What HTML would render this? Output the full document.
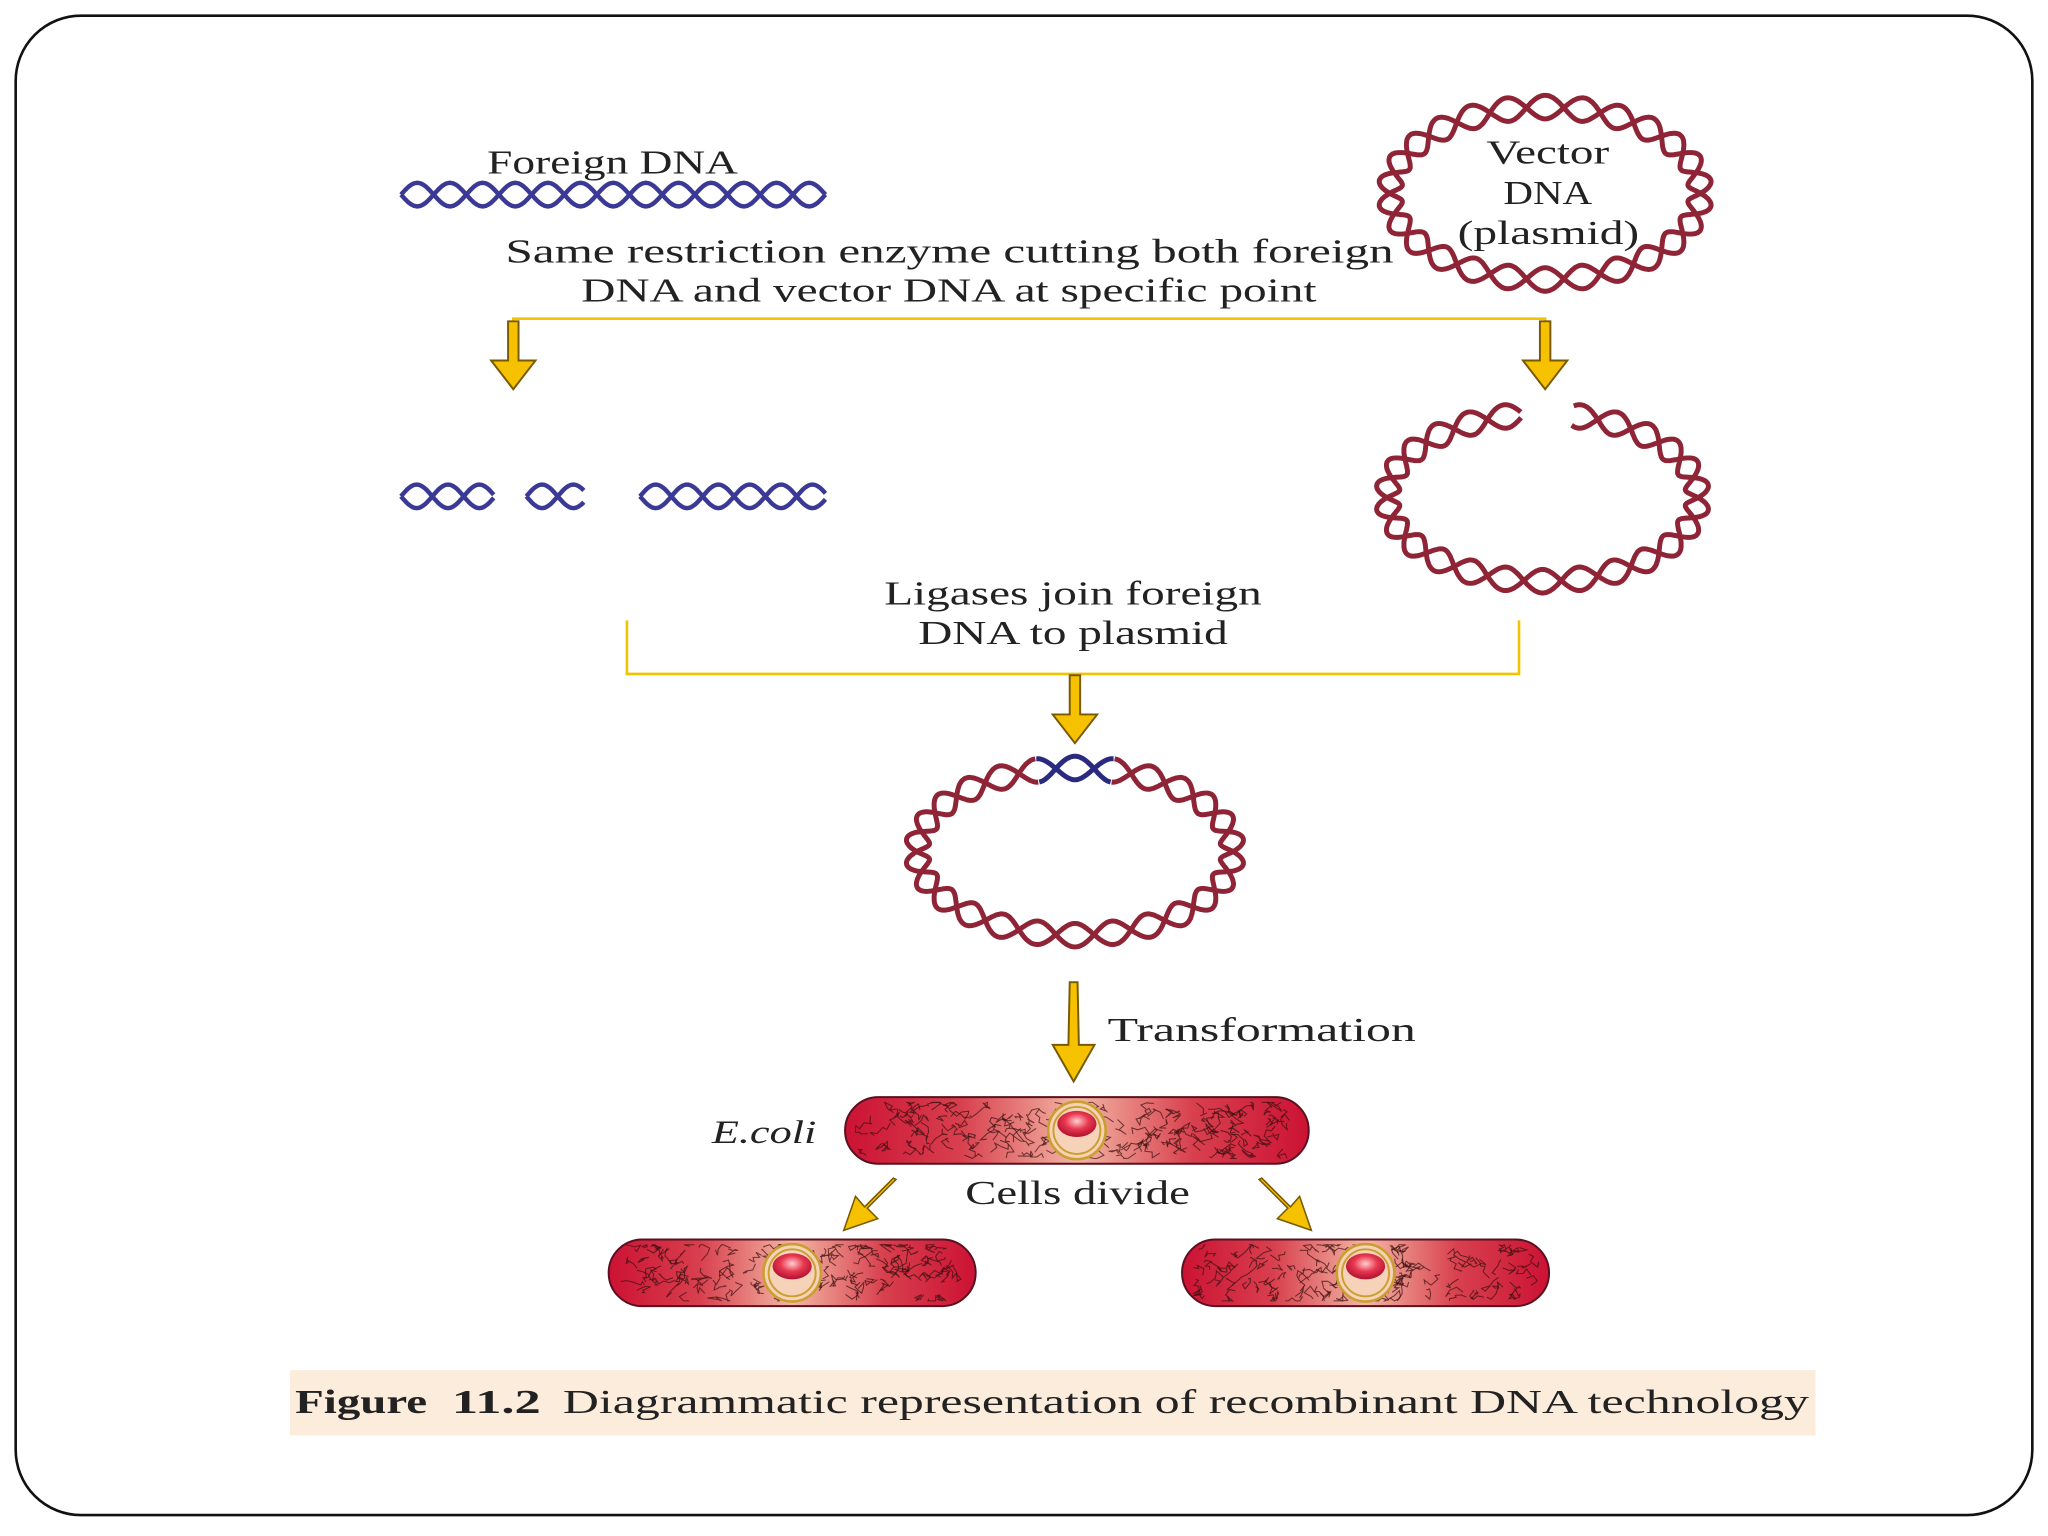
<!DOCTYPE html>
<html><head><meta charset="utf-8"><style>
html,body{margin:0;padding:0;background:#fff;}
svg{display:block;}
text{font-family:"Liberation Serif",serif;fill:#222;}
</style></head><body>
<svg id="s" width="2048" height="1536" viewBox="0 0 1568 1176" xmlns="http://www.w3.org/2000/svg">
<defs>
<linearGradient id="cell" x1="0" x2="1" y1="0" y2="0">
<stop offset="0" stop-color="#cc1234"/><stop offset="0.25" stop-color="#d8404e"/>
<stop offset="0.5" stop-color="#f3b6a4"/><stop offset="0.75" stop-color="#d8404e"/><stop offset="1" stop-color="#cc1234"/>
</linearGradient>
<radialGradient id="nuc" cx="0.5" cy="0.4" r="0.6">
<stop offset="0" stop-color="#ffd0d0"/><stop offset="0.5" stop-color="#e83850"/><stop offset="1" stop-color="#b01030"/>
</radialGradient>
<g id="arr"><path d="M-4,0 L4,0 L4,30 L17,30 L0,52 L-17,30 L-4,30 Z" fill="#f6c200" stroke="#7a5a00" stroke-width="1.5"/></g>
</defs>
<rect x="12" y="12" width="1544" height="1148" rx="50" fill="#fff" stroke="#111" stroke-width="2"/>
<rect x="222" y="1049" width="1168" height="50" fill="#fbecdc"/>
<text x="373" y="133" font-size="26" textLength="192" lengthAdjust="spacingAndGlyphs">Foreign DNA</text>
<text x="387" y="201" font-size="26" textLength="680" lengthAdjust="spacingAndGlyphs">Same restriction enzyme cutting both foreign</text>
<text x="445" y="231" font-size="26" textLength="563" lengthAdjust="spacingAndGlyphs">DNA and vector DNA at specific point</text>
<text x="1138" y="125" font-size="26" textLength="94" lengthAdjust="spacingAndGlyphs">Vector</text>
<text x="1151" y="156" font-size="26" textLength="68" lengthAdjust="spacingAndGlyphs">DNA</text>
<text x="1116" y="187" font-size="26" textLength="139" lengthAdjust="spacingAndGlyphs">(plasmid)</text>
<polyline points="393,270 393,244 1183,244 1183,270" fill="none" stroke="#f0c400" stroke-width="2"/>
<use href="#arr" x="393" y="246"/>
<use href="#arr" x="1183" y="246"/>
<text x="677" y="463" font-size="26" textLength="289" lengthAdjust="spacingAndGlyphs">Ligases join foreign</text>
<text x="703" y="493" font-size="26" textLength="237" lengthAdjust="spacingAndGlyphs">DNA to plasmid</text>
<polyline points="480,475 480,516 1163,516 1163,475" fill="none" stroke="#f0c400" stroke-width="2"/>
<use href="#arr" x="823" y="517"/>
<path d="M819,752 L825,752 L826,800 L838,800 L822,828 L806,800 L818,800 Z" fill="#f6c200" stroke="#7a5a00" stroke-width="1.5"/>
<text x="848" y="797" font-size="26" textLength="236" lengthAdjust="spacingAndGlyphs">Transformation</text>
<text x="545" y="875" font-size="25" font-style="italic" textLength="80" lengthAdjust="spacingAndGlyphs">E.coli</text>
<text x="739" y="922" font-size="26" textLength="172" lengthAdjust="spacingAndGlyphs">Cells divide</text>
<path d="M686,903 L664,925 L672,933 L646,942 L655,916 L662,924 L684,902 Z" fill="#f6c200" stroke="#7a5a00" stroke-width="1.2"/>
<path d="M964,903 L986,925 L978,933 L1004,942 L995,916 L988,924 L966,902 Z" fill="#f6c200" stroke="#7a5a00" stroke-width="1.2"/>
<g id="dyn"></g>
<text x="226" y="1082" font-size="26" font-weight="bold" textLength="101" lengthAdjust="spacingAndGlyphs">Figure</text>
<text x="346" y="1082" font-size="26" font-weight="bold" textLength="68" lengthAdjust="spacingAndGlyphs">11.2</text>
<text x="431" y="1082" font-size="26" textLength="954" lengthAdjust="spacingAndGlyphs">Diagrammatic representation of recombinant DNA technology</text>
</svg>
<script>
var NS="http://www.w3.org/2000/svg",g=document.getElementById("dyn");
function el(t,a){var e=document.createElementNS(NS,t);for(var k in a)e.setAttribute(k,a[k]);g.appendChild(e);return e;}
function lin(x1,x2,y,per,amp,col){for(var s=0;s<2;s++){var d="";for(var x=x1;x<=x2;x+=1){var yy=y+(s?-1:1)*amp*Math.sin((x-x1)/per*2*Math.PI);d+=(d?"L":"M")+x.toFixed(1)+","+yy.toFixed(1);}el("path",{d:d,fill:"none",stroke:col,"stroke-width":3.4});}}
function ell(cx,cy,rx,ry,n,amp,col,gapA,gapB,blue){for(var s=0;s<2;s++){var d="",db="";var N=900;for(var i=0;i<=N;i++){var t=i/N*2*Math.PI;var deg=t*180/Math.PI;
var x=cx+rx*Math.cos(t),y=cy+ry*Math.sin(t);var nx=ry*Math.cos(t),ny=rx*Math.sin(t),L=Math.hypot(nx,ny);nx/=L;ny/=L;var o=(s?-1:1)*amp*Math.sin(n*t);var px=(x+nx*o).toFixed(1),py=(y+ny*o).toFixed(1);
var inGap=gapA!=null&&deg>gapA&&deg<gapB;var inBlue=blue&&deg>blue[0]&&deg<blue[1];
if(inGap){d+=" ";continue;}
if(inBlue){db+=(db&&db.slice(-1)!=" "?"L":"M")+px+","+py;d+=" ";continue;}else db+=" ";
d+=(d&&d.slice(-1)!=" "?"L":"M")+px+","+py;}
el("path",{d:d.replace(/ +/g," "),fill:"none",stroke:col,"stroke-width":3.8});
if(blue)el("path",{d:db.replace(/ +/g," "),fill:"none",stroke:"#2a2a80","stroke-width":3.8});}}
var blue="#3a3a96",red="#8e2435";
lin(307,632,149,50,9,blue);
lin(307,378,380,48,9,blue);lin(403,447,380,48,9,blue);lin(490,632,380,48,9,blue);
ell(1183,148,119,66,13,9,red);
ell(1181,381,119,64,13,9,red,262,281);
ell(823,652,121,64,13,9,red,null,null,[256,284]);
var seed=7;function rnd(){seed=(seed*16807)%2147483647;return seed/2147483647;}
function cell(x1,x2,y1,y2){var h=y2-y1,r=h/2,w=x2-x1;
el("rect",{x:x1,y:y1,width:w,height:h,rx:r,fill:"url(#cell)",stroke:"#5a1020","stroke-width":1.5});
var n=Math.round(w/2.2);
for(var k=0;k<n;k++){var x=x1+r*0.5+rnd()*(w-r),y=y1+5+rnd()*(h-10),d="M"+x.toFixed(1)+","+y.toFixed(1);
for(var j=0;j<5;j++){x+=(rnd()-0.5)*12;y+=(rnd()-0.5)*10;y=Math.max(y1+4,Math.min(y2-4,y));x=Math.max(x1+8,Math.min(x2-8,x));d+="L"+x.toFixed(1)+","+y.toFixed(1);}
el("path",{d:d,fill:"none",stroke:"#3a1010","stroke-width":0.8,opacity:0.7});}
var cx=(x1+x2)/2,cy=(y1+y2)/2;
el("circle",{cx:cx,cy:cy,r:22,fill:"#f6d2b8",stroke:"#c9a030","stroke-width":2});
el("circle",{cx:cx,cy:cy,r:18,fill:"none",stroke:"#c9a030","stroke-width":1.5});
el("ellipse",{cx:cx,cy:cy-5,rx:15,ry:10,fill:"url(#nuc)"});}
cell(647,1002,840,891);cell(466,747,949,1000);cell(905,1186,949,1000);
</script>
</body></html>
